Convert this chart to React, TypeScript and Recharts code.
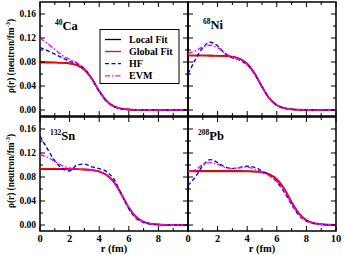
import React from 'react';
import { LineChart, Line, XAxis, YAxis, ReferenceArea } from 'recharts';

// radius grid (fm)
const rGrid = [0, 0.5, 1, 1.5, 2, 2.5, 3, 3.5, 4, 4.5, 5, 5.5, 6, 6.5, 7, 7.5, 8, 8.5, 9, 9.5, 10];

// 40Ca
const caLocal = [0.0795, 0.0795, 0.0793, 0.0788, 0.0777, 0.0745, 0.0669, 0.0518, 0.0316, 0.015, 0.006, 0.0022, 0.0008, 0.0003, 0.0001, 0, 0, 0, 0, 0, 0];
const caGlobal = [0.079, 0.079, 0.0789, 0.0785, 0.0775, 0.0746, 0.0673, 0.0524, 0.032, 0.0151, 0.0061, 0.0022, 0.0008, 0.0003, 0.0001, 0, 0, 0, 0, 0, 0];
const caHF = [0.104, 0.099, 0.093, 0.087, 0.0812, 0.0772, 0.069, 0.052, 0.0305, 0.014, 0.0055, 0.002, 0.0007, 0.0002, 0.0001, 0, 0, 0, 0, 0, 0];
const caEVM = [0.12, 0.111, 0.101, 0.091, 0.0845, 0.0785, 0.0685, 0.0515, 0.031, 0.0145, 0.0057, 0.0021, 0.0008, 0.0003, 0.0001, 0, 0, 0, 0, 0, 0];

// 68Ni
const niLocal = [0.091, 0.091, 0.091, 0.0909, 0.0907, 0.0902, 0.0888, 0.0853, 0.0769, 0.0608, 0.0387, 0.0195, 0.0083, 0.0032, 0.0012, 0.0004, 0.0002, 0.0001, 0, 0, 0];
const niGlobal = [0.0905, 0.0905, 0.0905, 0.0904, 0.0903, 0.0899, 0.0887, 0.0855, 0.0774, 0.0612, 0.0387, 0.0192, 0.0081, 0.0031, 0.0012, 0.0004, 0.0002, 0.0001, 0, 0, 0];
const niHF = [0.06, 0.084, 0.104, 0.113, 0.107, 0.094, 0.087, 0.083, 0.075, 0.06, 0.039, 0.019, 0.0078, 0.0029, 0.001, 0.0004, 0.0001, 0, 0, 0, 0];
const niEVM = [0.094, 0.099, 0.105, 0.108, 0.104, 0.095, 0.088, 0.084, 0.0755, 0.0595, 0.0385, 0.0192, 0.008, 0.003, 0.0011, 0.0004, 0.0001, 0, 0, 0, 0];

// 132Sn
const snLocal = [0.093, 0.093, 0.093, 0.093, 0.093, 0.0928, 0.0925, 0.0916, 0.0893, 0.0837, 0.0715, 0.0511, 0.0288, 0.0132, 0.0053, 0.002, 0.0008, 0.0003, 0.0001, 0, 0];
const snGlobal = [0.0935, 0.0935, 0.0935, 0.0934, 0.0933, 0.0931, 0.0926, 0.0915, 0.089, 0.0833, 0.0713, 0.0512, 0.0291, 0.0134, 0.0054, 0.002, 0.0008, 0.0003, 0.0001, 0, 0];
const snHF = [0.148, 0.127, 0.107, 0.094, 0.09, 0.1, 0.1015, 0.097, 0.094, 0.089, 0.076, 0.052, 0.027, 0.011, 0.0042, 0.0015, 0.0005, 0.0002, 0.0001, 0, 0];
const snEVM = [0.117, 0.113, 0.106, 0.099, 0.095, 0.093, 0.092, 0.091, 0.0885, 0.0825, 0.0705, 0.0505, 0.0285, 0.013, 0.0052, 0.0019, 0.0007, 0.0003, 0.0001, 0, 0];

// 208Pb
const pbLocal = [0.09, 0.09, 0.09, 0.09, 0.09, 0.09, 0.09, 0.09, 0.0897, 0.0892, 0.0878, 0.0843, 0.0761, 0.0601, 0.0383, 0.0193, 0.0082, 0.0032, 0.0012, 0.0004, 0.0002];
const pbGlobal = [0.0895, 0.0895, 0.0895, 0.0895, 0.0895, 0.0895, 0.0895, 0.0895, 0.0893, 0.0889, 0.0877, 0.0845, 0.0765, 0.0603, 0.0381, 0.019, 0.008, 0.0031, 0.0012, 0.0004, 0.0001];
const pbHF = [0.066, 0.08, 0.099, 0.109, 0.104, 0.097, 0.094, 0.096, 0.098, 0.096, 0.09, 0.083, 0.072, 0.055, 0.034, 0.016, 0.0065, 0.0024, 0.0009, 0.0003, 0.0001];
const pbEVM = [0.089, 0.092, 0.1005, 0.104, 0.101, 0.0955, 0.094, 0.0955, 0.0965, 0.093, 0.088, 0.082, 0.073, 0.057, 0.036, 0.0175, 0.0072, 0.0027, 0.001, 0.0003, 0.0001];

// ticks
const xTicks = [0, 1, 2, 3, 4, 5, 6, 7, 8, 9, 10];
const xLabelsLeft = [0, 2, 4, 6, 8];
const xLabelsRight = [0, 2, 4, 6, 8, 10];
const yTicks = [0, 0.02, 0.04, 0.06, 0.08, 0.1, 0.12, 0.14, 0.16];
const yMajor = [0, 0.04, 0.08, 0.12, 0.16];
const xMajor = [0, 2, 4, 6, 8, 10];

const seriesNames = ['Local Fit', 'Global Fit', 'HF', 'EVM'];
const FONT = "'Liberation Serif', 'Times New Roman', serif";

function build(local: number[], global: number[], hf: number[], evm: number[]) {
  return rGrid.map((r, i) => ({ r, local: local[i], global: global[i], hf: hf[i], evm: evm[i] }));
}

const PW = 148;
const PH = 114;
const AX = 2; // axis band size

function Panel({ data, left, top, xLabels, showY }: { data: any[]; left: number; top: number; xLabels: number[] | null; showY: boolean }) {
  const right = left + PW;
  const bottom = top + PH;
  const YTick = (props: any) => {
    const { y, payload } = props;
    const v = payload.value;
    const major = yMajor.includes(v);
    const len = major ? 5 : 3;
    return (
      <g>
        <line x1={left} x2={left + len} y1={y} y2={y} stroke="#000" strokeWidth={1} />
        <line x1={right - len} x2={right} y1={y} y2={y} stroke="#000" strokeWidth={1} />
        {showY && major ? (
          <text x={left - 4} y={y} dy="0.35em" textAnchor="end" fontFamily={FONT} fontWeight="bold" fontSize={9.5} fill="#000">
            {v.toFixed(2)}
          </text>
        ) : null}
      </g>
    );
  };
  const XTick = (props: any) => {
    const { x, payload } = props;
    const v = payload.value;
    const major = xMajor.includes(v);
    const len = major ? 5 : 3;
    return (
      <g>
        <line x1={x} x2={x} y1={bottom} y2={bottom - len} stroke="#000" strokeWidth={1} />
        <line x1={x} x2={x} y1={top} y2={top + len} stroke="#000" strokeWidth={1} />
        {xLabels && xLabels.includes(v) ? (
          <text x={x} y={bottom + 11} textAnchor="middle" fontFamily={FONT} fontWeight="bold" fontSize={10.5} fill="#000">
            {v}
          </text>
        ) : null}
      </g>
    );
  };
  return (
    <div style={{ position: 'absolute', left: 0, top: 0 }}>
      <LineChart width={343} height={255} data={data} margin={{ top, left: left - AX, right: 343 - right, bottom: 255 - bottom - AX }}>
        <XAxis dataKey="r" type="number" domain={[0, 10]} ticks={xTicks} interval={0} height={AX} axisLine={false} tickLine={false} tick={XTick} />
        <YAxis type="number" domain={[-0.01, 0.18]} ticks={yTicks} interval={0} width={AX} axisLine={false} tickLine={false} tick={YTick} />
        <Line type="monotone" dataKey="local" name={seriesNames[0]} stroke="#000000" strokeWidth={1.4} dot={false} isAnimationActive={false} />
        <Line type="monotone" dataKey="global" name={seriesNames[1]} stroke="#ff0000" strokeWidth={1.8} dot={false} isAnimationActive={false} />
        <Line type="monotone" dataKey="hf" name={seriesNames[2]} stroke="#0000ff" strokeWidth={1.4} strokeDasharray="4 2.5" dot={false} isAnimationActive={false} />
        <Line type="monotone" dataKey="evm" name={seriesNames[3]} stroke="#ff00ff" strokeWidth={1.4} strokeDasharray="5 2 1.5 2" dot={false} isAnimationActive={false} />
        <ReferenceArea x1={0} x2={10} y1={-0.01} y2={0.18} fill="none" fillOpacity={0} stroke="#000" strokeWidth={1.5} ifOverflow="visible" />
      </LineChart>
    </div>
  );
}

function YTitle({ cy }: { cy: number }) {
  return (
    <text x={11} y={cy} transform={`rotate(-90 11 ${cy})`} textAnchor="middle" dy="0.35em" fontFamily={FONT} fontWeight="bold" fontSize={9.3} fill="#000">
      ρ(r) (neutron/fm
      <tspan fontSize={6.5} dy={-4}>-3</tspan>
      <tspan dy={4}>)</tspan>
    </text>
  );
}

function Nucleus({ x, y, mass, el }: { x: number; y: number; mass: string; el: string }) {
  return (
    <text x={x} y={y} fontFamily={FONT} fontWeight="bold" fill="#000">
      <tspan fontSize={7.5} dy={-5}>{mass}</tspan>
      <tspan fontSize={12.5} dy={5}>{el}</tspan>
    </text>
  );
}

const legendRows = [
  { name: seriesNames[0], color: '#000000', dash: undefined as string | undefined, y: 39.5 },
  { name: seriesNames[1], color: '#ff0000', dash: undefined, y: 51.5 },
  { name: seriesNames[2], color: '#0000ff', dash: '4 2.5', y: 63.7 },
  { name: seriesNames[3], color: '#ff00ff', dash: '5 2 1.5 2', y: 75.9 },
];

export default function App() {
  return (
    <div style={{ position: 'absolute', left: 0, top: 0, width: 343, height: 255, background: '#fff', overflow: 'hidden' }}>
      <Panel data={build(caLocal, caGlobal, caHF, caEVM)} left={40} top={2} xLabels={null} showY={true} />
      <Panel data={build(niLocal, niGlobal, niHF, niEVM)} left={188} top={2} xLabels={null} showY={false} />
      <Panel data={build(snLocal, snGlobal, snHF, snEVM)} left={40} top={117} xLabels={xLabelsLeft} showY={true} />
      <Panel data={build(pbLocal, pbGlobal, pbHF, pbEVM)} left={188} top={117} xLabels={xLabelsRight} showY={false} />
      <svg width={343} height={255} style={{ position: 'absolute', left: 0, top: 0, pointerEvents: 'none' }}>
        <YTitle cy={56} />
        <YTitle cy={171} />
        <text x={114} y={252} textAnchor="middle" fontFamily={FONT} fontWeight="bold" fontSize={10.5} fill="#000">r (fm)</text>
        <text x={262} y={252} textAnchor="middle" fontFamily={FONT} fontWeight="bold" fontSize={10.5} fill="#000">r (fm)</text>
        <Nucleus x={55} y={29.5} mass="40" el="Ca" />
        <Nucleus x={203} y={28.5} mass="68" el="Ni" />
        <Nucleus x={50} y={140} mass="132" el="Sn" />
        <Nucleus x={198} y={140} mass="208" el="Pb" />
        <rect x={100} y={29.5} width={79} height={54} fill="#fff" stroke="#000" strokeWidth={1} />
        {legendRows.map((row) => (
          <g key={row.name}>
            <line x1={105} x2={121} y1={row.y} y2={row.y} stroke={row.color} strokeWidth={1.3} strokeDasharray={row.dash} />
            <text x={129} y={row.y} dy="0.35em" fontFamily={FONT} fontWeight="bold" fontSize={10} fill="#000">{row.name}</text>
          </g>
        ))}
      </svg>
    </div>
  );
}
